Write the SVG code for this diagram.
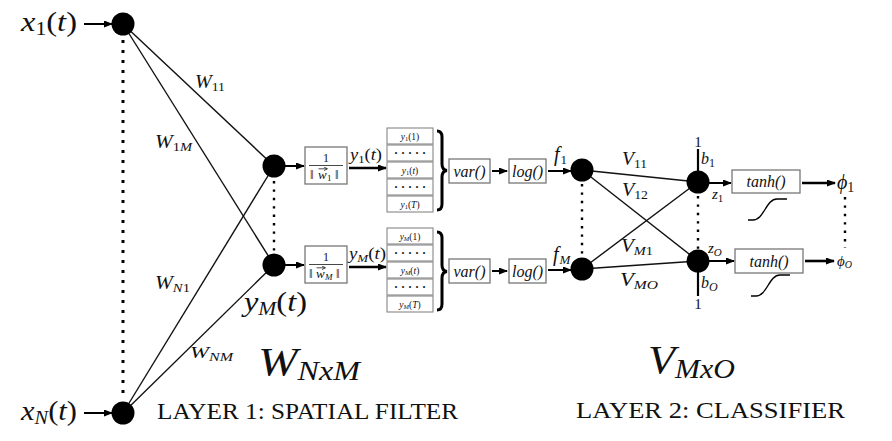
<svg xmlns="http://www.w3.org/2000/svg" width="892" height="441" viewBox="0 0 892 441">
<defs>
<marker id="ah" markerWidth="9" markerHeight="7" refX="8" refY="3.5" orient="auto" markerUnits="userSpaceOnUse">
<path d="M0,0 L9,3.5 L0,7 z" fill="#000"/>
</marker>
<marker id="vh" markerWidth="4" markerHeight="4" refX="3.5" refY="2" orient="auto" markerUnits="userSpaceOnUse">
<path d="M0,0 L4,2 L0,4" fill="none" stroke="#222" stroke-width="0.8"/>
</marker>
<style>
text{font-family:"Liberation Serif","Times New Roman",serif;fill:#111}
.m{font-style:italic}
.node{fill:#000}
.edge{stroke:#111;stroke-width:1.4;fill:none}
.arr{stroke:#000;stroke-width:2;fill:none;marker-end:url(#ah)}
.arrb{stroke:#000;stroke-width:2.6;fill:none;marker-end:url(#ah)}
.dot{stroke:#000;stroke-width:3;stroke-dasharray:3 7;fill:none}
.dots{stroke:#000;stroke-width:2.4;stroke-dasharray:2.4 6;fill:none}
.box{fill:#fff;stroke:#777;stroke-width:1.3}
.sbox{fill:#fff;stroke:#888;stroke-width:1.1}
.brace{stroke:#000;stroke-width:3;fill:none}
.sig{stroke:#000;stroke-width:1.4;fill:none}
.bias{stroke:#000;stroke-width:2.2}
.vec{stroke:#222;stroke-width:0.8;fill:none;marker-end:url(#vh)}
</style>
</defs>
<rect width="892" height="441" fill="#fff"/>

<g id="connectors">
<line class="dot" x1="123" y1="40" x2="123" y2="400"/>
<line class="dots" x1="274" y1="181" x2="274" y2="252"/>
<line class="dots" x1="582" y1="184" x2="582" y2="258"/>
<line class="dots" x1="698" y1="196" x2="698" y2="250"/>
<line class="dots" x1="845" y1="197" x2="845" y2="248"/>
<line class="edge" x1="123" y1="24" x2="274" y2="166"/>
<line class="edge" x1="123" y1="24" x2="274" y2="265"/>
<line class="edge" x1="123" y1="413" x2="274" y2="166"/>
<line class="edge" x1="123" y1="413" x2="274" y2="265"/>
<line class="edge" x1="582" y1="170" x2="698" y2="182"/>
<line class="edge" x1="582" y1="170" x2="698" y2="261"/>
<line class="edge" x1="582" y1="269" x2="698" y2="182"/>
<line class="edge" x1="582" y1="269" x2="698" y2="261"/>
<line class="arr" x1="84" y1="24" x2="112" y2="24"/>
<line class="arr" x1="84" y1="413" x2="112" y2="413"/>
<line class="arr" x1="285" y1="166" x2="304" y2="166"/>
<line class="arr" x1="285" y1="265" x2="304" y2="265"/>
<line class="arrb" x1="349" y1="168" x2="386" y2="168"/>
<line class="arrb" x1="349" y1="267" x2="386" y2="267"/>
<line class="arr" x1="492" y1="171" x2="507" y2="171"/>
<line class="arr" x1="492" y1="271" x2="507" y2="271"/>
<line class="arr" x1="548" y1="171" x2="571" y2="171"/>
<line class="arr" x1="548" y1="270" x2="571" y2="270"/>
<line class="arr" x1="708" y1="183" x2="731" y2="183"/>
<line class="arr" x1="708" y1="261" x2="734" y2="261"/>
<line class="arrb" x1="802" y1="183" x2="835" y2="183"/>
<line class="arrb" x1="805" y1="261" x2="834" y2="261"/>
<line class="bias" x1="698" y1="149" x2="698" y2="172"/>
<line class="bias" x1="698" y1="271" x2="698" y2="296"/>
</g>

<g id="input-x1">
<circle class="node" cx="123" cy="24" r="11.5"/>
<text x="21" y="31" font-size="27" textLength="56" lengthAdjust="spacingAndGlyphs"><tspan class="m">x</tspan><tspan font-size="18" dy="4">1</tspan><tspan dy="-4">(</tspan><tspan class="m">t</tspan>)</text>
</g>
<g id="input-xN">
<circle class="node" cx="123" cy="413" r="11.5"/>
<text x="21" y="420" font-size="27" textLength="56" lengthAdjust="spacingAndGlyphs"><tspan class="m">x</tspan><tspan class="m" font-size="18" dy="4">N</tspan><tspan dy="-4">(</tspan><tspan class="m">t</tspan>)</text>
</g>

<g id="weight-labels">
<text x="195" y="88" font-size="19" textLength="30" lengthAdjust="spacingAndGlyphs"><tspan class="m">W</tspan><tspan font-size="13" dy="3">11</tspan></text>
<text x="155" y="148" font-size="19" textLength="37" lengthAdjust="spacingAndGlyphs"><tspan class="m">W</tspan><tspan font-size="13" dy="3">1</tspan><tspan class="m" font-size="13">M</tspan></text>
<text x="155" y="289" font-size="19" textLength="35" lengthAdjust="spacingAndGlyphs"><tspan class="m">W</tspan><tspan class="m" font-size="13" dy="3">N</tspan><tspan font-size="13">1</tspan></text>
<text x="190" y="358" font-size="17" textLength="43" lengthAdjust="spacingAndGlyphs"><tspan class="m">W</tspan><tspan class="m" font-size="12" dy="3">NM</tspan></text>
</g>

<g id="node-y1">
<circle class="node" cx="274" cy="166" r="11.5"/>
</g>
<g id="node-yM">
<circle class="node" cx="274" cy="265" r="11.5"/>
<text x="244" y="311" font-size="27" textLength="63" lengthAdjust="spacingAndGlyphs"><tspan class="m">y</tspan><tspan class="m" font-size="18" dy="4">M</tspan><tspan dy="-4">(</tspan><tspan class="m">t</tspan>)</text>
</g>

<g id="norm-1">
<rect class="box" x="305" y="147" width="42" height="37"/>
<text x="326" y="162" font-size="12" text-anchor="middle">1</text>
<line x1="309" y1="165.5" x2="343" y2="165.5" stroke="#333" stroke-width="0.9"/>
<text y="179" font-size="13"><tspan x="310">‖</tspan><tspan class="m" x="318">w</tspan><tspan font-size="9" x="327" dy="2">1</tspan><tspan x="335" dy="-2">‖</tspan></text>
<line class="vec" x1="318.5" y1="168.8" x2="327" y2="168.8"/>
<text x="350" y="160" font-size="16" textLength="32" lengthAdjust="spacingAndGlyphs"><tspan class="m">y</tspan><tspan font-size="11" dy="3">1</tspan><tspan dy="-3">(</tspan><tspan class="m">t</tspan>)</text>
</g>
<g id="norm-M">
<rect class="box" x="305" y="246" width="42" height="37"/>
<text x="326" y="261" font-size="12" text-anchor="middle">1</text>
<line x1="309" y1="264.5" x2="343" y2="264.5" stroke="#333" stroke-width="0.9"/>
<text y="278" font-size="13"><tspan x="309">‖</tspan><tspan class="m" x="316">w</tspan><tspan class="m" font-size="9" x="325" dy="2">M</tspan><tspan x="336" dy="-2">‖</tspan></text>
<line class="vec" x1="316.5" y1="267.8" x2="325" y2="267.8"/>
<text x="349" y="259" font-size="16" textLength="37" lengthAdjust="spacingAndGlyphs"><tspan class="m">y</tspan><tspan class="m" font-size="11" dy="3">M</tspan><tspan dy="-3">(</tspan><tspan class="m">t</tspan>)</text>
</g>

<g id="stack-1" font-size="9.5">
<rect class="sbox" x="387" y="128" width="46" height="16"/>
<rect class="sbox" x="387" y="145" width="46" height="16"/>
<rect class="sbox" x="387" y="162" width="46" height="16"/>
<rect class="sbox" x="387" y="179" width="46" height="16"/>
<rect class="sbox" x="387" y="196" width="46" height="16"/>
<text x="410" y="139.5" text-anchor="middle"><tspan class="m">y</tspan><tspan font-size="6.5" dy="1.5">1</tspan><tspan dy="-1.5">(1)</tspan></text>
<text x="410" y="157" text-anchor="middle" font-size="12" font-weight="bold">· · · · ·</text>
<text x="410" y="173.5" text-anchor="middle"><tspan class="m">y</tspan><tspan font-size="6.5" dy="1.5">1</tspan><tspan dy="-1.5">(</tspan><tspan class="m">t</tspan>)</text>
<text x="410" y="191" text-anchor="middle" font-size="12" font-weight="bold">· · · · ·</text>
<text x="410" y="207.5" text-anchor="middle"><tspan class="m">y</tspan><tspan font-size="6.5" dy="1.5">1</tspan><tspan dy="-1.5">(</tspan><tspan class="m">T</tspan>)</text>
<path class="brace" d="M437,131 Q442,131 442,137 L442,164 Q442,170 447,170.5 Q442,171 442,177 L442,204 Q442,210 437,210"/>
</g>
<g id="stack-M" font-size="9.5">
<rect class="sbox" x="387" y="228" width="46" height="16"/>
<rect class="sbox" x="387" y="245" width="46" height="16"/>
<rect class="sbox" x="387" y="262" width="46" height="16"/>
<rect class="sbox" x="387" y="279" width="46" height="16"/>
<rect class="sbox" x="387" y="296" width="46" height="16"/>
<text x="410" y="239.5" text-anchor="middle"><tspan class="m">y</tspan><tspan class="m" font-size="6.5" dy="1.5">M</tspan><tspan dy="-1.5">(1)</tspan></text>
<text x="410" y="257" text-anchor="middle" font-size="12" font-weight="bold">· · · · ·</text>
<text x="410" y="273.5" text-anchor="middle"><tspan class="m">y</tspan><tspan class="m" font-size="6.5" dy="1.5">M</tspan><tspan dy="-1.5">(</tspan><tspan class="m">t</tspan>)</text>
<text x="410" y="291" text-anchor="middle" font-size="12" font-weight="bold">· · · · ·</text>
<text x="410" y="307.5" text-anchor="middle"><tspan class="m">y</tspan><tspan class="m" font-size="6.5" dy="1.5">M</tspan><tspan dy="-1.5">(</tspan><tspan class="m">T</tspan>)</text>
<path class="brace" d="M437,232 Q442,232 442,238 L442,265 Q442,271 447,271.5 Q442,272 442,278 L442,304 Q442,310 437,310"/>
</g>

<g id="var-1"><rect class="box" x="449" y="159" width="41" height="24"/><text class="m" x="469.5" y="176.5" font-size="16" text-anchor="middle">var()</text></g>
<g id="var-M"><rect class="box" x="449" y="259" width="41" height="24"/><text class="m" x="469.5" y="276.5" font-size="16" text-anchor="middle">var()</text></g>
<g id="log-1"><rect class="box" x="509" y="159" width="37" height="24"/><text class="m" x="527.5" y="176.5" font-size="16" text-anchor="middle">log()</text></g>
<g id="log-M"><rect class="box" x="509" y="259" width="37" height="24"/><text class="m" x="527.5" y="276.5" font-size="16" text-anchor="middle">log()</text></g>

<g id="node-f1">
<circle class="node" cx="582" cy="170" r="11.5"/>
<text x="554" y="161" font-size="20"><tspan class="m">f</tspan><tspan font-size="13" dy="3" dx="1">1</tspan></text>
</g>
<g id="node-fM">
<circle class="node" cx="582" cy="269" r="11.5"/>
<text x="553" y="261" font-size="20"><tspan class="m">f</tspan><tspan class="m" font-size="13" dy="3" dx="1">M</tspan></text>
</g>

<g id="v-labels">
<text x="622" y="165" font-size="19" textLength="25" lengthAdjust="spacingAndGlyphs"><tspan class="m">V</tspan><tspan font-size="13" dy="3">11</tspan></text>
<text x="622" y="196" font-size="19" textLength="26" lengthAdjust="spacingAndGlyphs"><tspan class="m">V</tspan><tspan font-size="13" dy="3">12</tspan></text>
<text x="621" y="252" font-size="19" textLength="32" lengthAdjust="spacingAndGlyphs"><tspan class="m">V</tspan><tspan class="m" font-size="13" dy="3">M</tspan><tspan font-size="13">1</tspan></text>
<text x="620" y="286" font-size="19" textLength="38" lengthAdjust="spacingAndGlyphs"><tspan class="m">V</tspan><tspan class="m" font-size="13" dy="3">MO</tspan></text>
</g>

<g id="node-z1">
<circle class="node" cx="698" cy="182" r="11.5"/>
<text x="698" y="147" font-size="15" text-anchor="middle">1</text>
<text x="701" y="164" font-size="16"><tspan class="m">b</tspan><tspan font-size="12" dy="3">1</tspan></text>
<text x="712" y="199" font-size="15"><tspan class="m">z</tspan><tspan font-size="11" dy="3">1</tspan></text>
</g>
<g id="node-zO">
<circle class="node" cx="698" cy="261" r="11.5"/>
<text x="698" y="309" font-size="15" text-anchor="middle">1</text>
<text x="701" y="288" font-size="16"><tspan class="m">b</tspan><tspan class="m" font-size="12" dy="3">O</tspan></text>
<text x="708" y="253" font-size="15"><tspan class="m">z</tspan><tspan class="m" font-size="11" dy="3">O</tspan></text>
</g>

<g id="tanh-1">
<rect class="box" x="732" y="170" width="68" height="23"/>
<text class="m" x="766" y="187" font-size="16" text-anchor="middle">tanh()</text>
<path class="sig" d="M748,220 L753,220 C764,220 766,199 777,199 L787,199"/>
</g>
<g id="tanh-O">
<rect class="box" x="735" y="249" width="68" height="24"/>
<text class="m" x="769" y="266.5" font-size="16" text-anchor="middle">tanh()</text>
<path class="sig" d="M751,296 L756,296 C767,296 769,275 780,275 L790,275"/>
</g>

<g id="out-phi1"><text x="837" y="189" font-size="20"><tspan class="m">ϕ</tspan><tspan font-size="14" dy="3">1</tspan></text></g>
<g id="out-phiO"><text x="837" y="266" font-size="15"><tspan class="m">ϕ</tspan><tspan class="m" font-size="10" dy="2">O</tspan></text></g>

<g id="titles">
<text x="258" y="375" font-size="40" textLength="102" lengthAdjust="spacingAndGlyphs"><tspan class="m">W</tspan><tspan class="m" font-size="27" dy="5">NxM</tspan></text>
<text x="157" y="419" font-size="23" textLength="301" lengthAdjust="spacingAndGlyphs">LAYER 1: SPATIAL FILTER</text>
<text x="648" y="373" font-size="40" textLength="87" lengthAdjust="spacingAndGlyphs"><tspan class="m">V</tspan><tspan class="m" font-size="27" dy="5">MxO</tspan></text>
<text x="576" y="418" font-size="23" textLength="269" lengthAdjust="spacingAndGlyphs">LAYER 2: CLASSIFIER</text>
</g>
</svg>
